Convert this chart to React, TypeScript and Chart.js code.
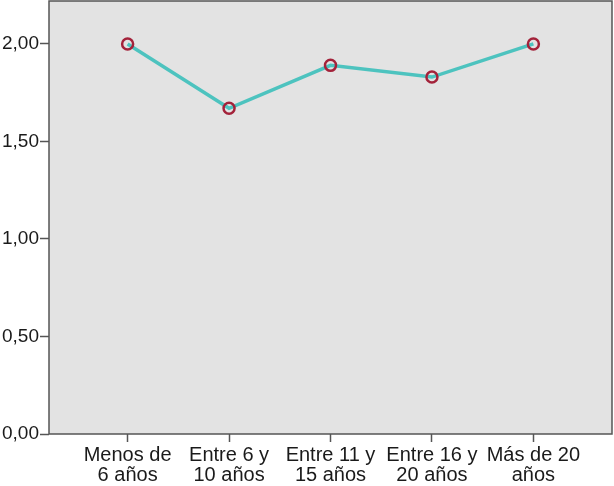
import { useEffect, useRef } from "react"
import Chart from "chart.js/auto"

const categories = [
  ["Menos de", "6 años"],
  ["Entre 6 y", "10 años"],
  ["Entre 11 y", "15 años"],
  ["Entre 16 y", "20 años"],
  ["Más de 20", "años"],
]
const means = [2.0, 1.67, 1.89, 1.83, 2.0]
const yTicks = [0, 0.5, 1, 1.5, 2]

const plotFrame = {
  id: "plotFrame",
  beforeDraw(chart: any) {
    const { ctx, chartArea } = chart
    ctx.save()
    ctx.fillStyle = "#e3e3e3"
    ctx.fillRect(chartArea.left, chartArea.top, chartArea.width, chartArea.height)
    ctx.restore()
  },
  afterDraw(chart: any) {
    const { ctx, chartArea } = chart
    ctx.save()
    ctx.strokeStyle = "#555555"
    ctx.lineWidth = 1.5
    ctx.strokeRect(chartArea.left, chartArea.top, chartArea.width, chartArea.height)
    ctx.restore()
  },
}

export default function App() {
  const chartRef = useRef<HTMLCanvasElement>(null)
  const chartInstance = useRef<Chart | null>(null)

  useEffect(() => {
    document.body.style.margin = "0"
    if (chartRef.current) {
      const ctx = chartRef.current.getContext("2d")

      if (ctx) {
        if (chartInstance.current) {
          chartInstance.current.destroy()
        }

        const family = "'Liberation Sans', Arial, sans-serif"

        chartInstance.current = new Chart(ctx, {
          type: "line",
          data: {
            datasets: [
              {
                data: means.map((v, i) => ({ x: i, y: v })),
                borderColor: "#4dc3bf",
                borderWidth: 3.5,
                pointRadius: 5.5,
                pointBorderWidth: 2.5,
                pointBorderColor: "#a3223a",
                pointBackgroundColor: "rgba(0,0,0,0)",
                fill: false,
                tension: 0,
              },
            ],
          },
          plugins: [plotFrame],
          options: {
            animation: false,
            responsive: true,
            maintainAspectRatio: false,
            layout: { autoPadding: false, padding: { top: 1, right: 2, left: 0, bottom: 0 } },
            plugins: {
              legend: { display: false },
              tooltip: { enabled: false },
            },
            scales: {
              x: {
                type: "linear",
                min: -0.775,
                max: 4.775,
                afterBuildTicks: (scale: any) => {
                  scale.ticks = categories.map((_, i) => ({ value: i }))
                },
                afterFit: (scale: any) => {
                  scale.height = 52
                  scale.paddingLeft = 0
                  scale.paddingRight = 0
                },
                grid: {
                  drawOnChartArea: false,
                  drawTicks: true,
                  tickLength: 8,
                  tickColor: "#555555",
                  tickWidth: 1.5,
                },
                border: { display: false },
                ticks: {
                  autoSkip: false,
                  maxRotation: 0,
                  padding: 3,
                  color: "#1a1a1a",
                  font: { family, size: 20, lineHeight: 1.0 },
                  callback: (v: any) => categories[Math.round(Number(v))] ?? "",
                },
              },
              y: {
                min: 0,
                max: 2.22,
                afterBuildTicks: (scale: any) => {
                  scale.ticks = yTicks.map((v) => ({ value: v }))
                },
                afterFit: (scale: any) => {
                  scale.width = 49
                  scale.paddingTop = 0
                  scale.paddingBottom = 0
                },
                grid: {
                  drawOnChartArea: false,
                  drawTicks: true,
                  tickLength: 9,
                  tickColor: "#555555",
                  tickWidth: 1.5,
                },
                border: { display: false },
                ticks: {
                  padding: 1,
                  color: "#1a1a1a",
                  font: { family, size: 19 },
                  callback: (v: any) => Number(v).toFixed(2).replace(".", ","),
                },
              },
            },
          },
        })
      }
    }

    return () => {
      if (chartInstance.current) {
        chartInstance.current.destroy()
        chartInstance.current = null
      }
    }
  }, [])

  return (
    <div style={{ width: 614, height: 486, background: "#ffffff" }}>
      <canvas ref={chartRef} aria-label="Line chart of means by years" role="img"></canvas>
    </div>
  )
}
